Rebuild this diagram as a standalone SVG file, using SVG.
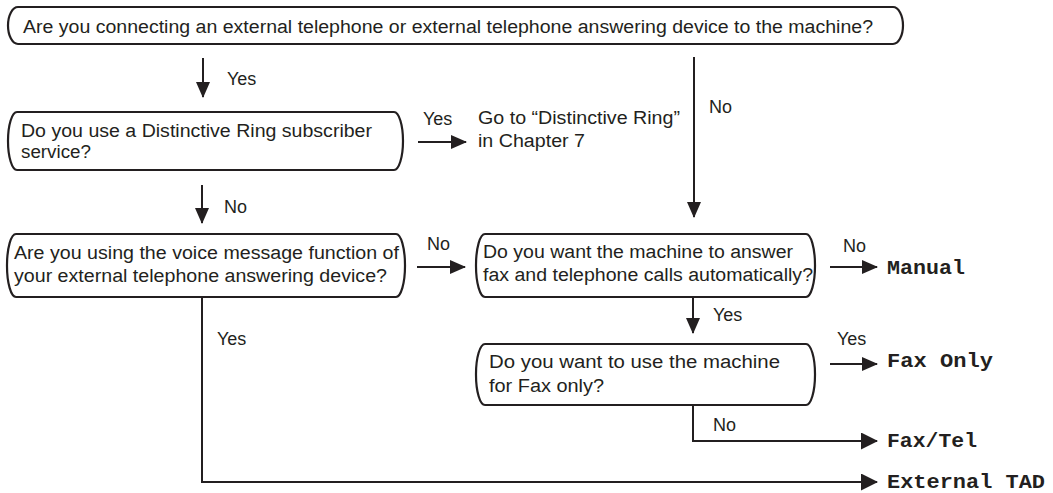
<svg xmlns="http://www.w3.org/2000/svg" width="1053" height="493" viewBox="0 0 1053 493">
<defs>
<style>
.box{fill:#fff;stroke:#231f20;stroke-width:2.2}
.t{font-family:"Liberation Sans",Arial,sans-serif;font-size:18px;fill:#231f20}
.m{font-family:"Liberation Mono","Courier New",monospace;font-size:20.5px;font-weight:bold;fill:#231f20}
.c{fill:none;stroke:#231f20;stroke-width:2}
</style>
<marker id="ah" viewBox="0 0 16 14" refX="15" refY="7" markerWidth="16" markerHeight="14" markerUnits="userSpaceOnUse" orient="auto">
<path d="M0,0 L16,7 L0,14 z" fill="#231f20"/>
</marker>
<marker id="ahb" viewBox="0 0 17 17" refX="16" refY="8.5" markerWidth="17" markerHeight="17" markerUnits="userSpaceOnUse" orient="auto">
<path d="M0,0 L17,8.5 L0,17 z" fill="#231f20"/>
</marker>
</defs>
<rect width="1053" height="493" fill="#fff"/>

<g id="connectors">
<line class="c" x1="203" y1="58" x2="203" y2="97" marker-end="url(#ah)"/>
<line class="c" x1="418" y1="142" x2="466" y2="142" marker-end="url(#ah)"/>
<line class="c" x1="694" y1="57" x2="694" y2="217" marker-end="url(#ah)"/>
<line class="c" x1="202" y1="185" x2="202" y2="223" marker-end="url(#ah)"/>
<line class="c" x1="417" y1="267" x2="465" y2="267" marker-end="url(#ah)"/>
<line class="c" x1="830" y1="267" x2="877" y2="267" marker-end="url(#ah)"/>
<line class="c" x1="693" y1="297" x2="693" y2="333" marker-end="url(#ah)"/>
<line class="c" x1="830" y1="364" x2="877" y2="364" marker-end="url(#ah)"/>
<polyline class="c" points="693,405 693,441 877,441" marker-end="url(#ahb)"/>
<polyline class="c" points="202,297 202,482 877,482" marker-end="url(#ahb)"/>
<text class="t" x="227" y="85">Yes</text>
<text class="t" x="423" y="125">Yes</text>
<text class="t" x="709" y="113">No</text>
<text class="t" x="224" y="213">No</text>
<text class="t" x="427" y="250">No</text>
<text class="t" x="217" y="345">Yes</text>
<text class="t" x="843" y="252">No</text>
<text class="t" x="713" y="321">Yes</text>
<text class="t" x="837" y="345">Yes</text>
<text class="t" x="713" y="431">No</text>
</g>

<g id="q1">
<rect class="box" x="8" y="7" width="895" height="37" rx="10" ry="18.5"/>
<text class="t" x="23" y="33" textLength="850" lengthAdjust="spacingAndGlyphs">Are you connecting an external telephone or external telephone answering device to the machine?</text>
</g>

<g id="q2">
<rect class="box" x="8" y="112" width="395" height="58" rx="9" ry="29"/>
<text class="t" x="21" y="137" textLength="351" lengthAdjust="spacingAndGlyphs">Do you use a Distinctive Ring subscriber</text>
<text class="t" x="21" y="158" textLength="70" lengthAdjust="spacingAndGlyphs">service?</text>
</g>

<g id="goto">
<text class="t" x="478" y="124" textLength="202" lengthAdjust="spacingAndGlyphs">Go to “Distinctive Ring”</text>
<text class="t" x="478" y="147" textLength="107" lengthAdjust="spacingAndGlyphs">in Chapter 7</text>
</g>

<g id="q3">
<rect class="box" x="7" y="234" width="398" height="63" rx="9" ry="31"/>
<text class="t" x="14" y="259" textLength="385" lengthAdjust="spacingAndGlyphs">Are you using the voice message function of</text>
<text class="t" x="14" y="282" textLength="373" lengthAdjust="spacingAndGlyphs">your external telephone answering device?</text>
</g>

<g id="q4">
<rect class="box" x="476" y="234" width="339" height="63" rx="9" ry="31"/>
<text class="t" x="483" y="258" textLength="310" lengthAdjust="spacingAndGlyphs">Do you want the machine to answer</text>
<text class="t" x="483" y="281" textLength="330" lengthAdjust="spacingAndGlyphs">fax and telephone calls automatically?</text>
</g>

<g id="q5">
<rect class="box" x="476" y="344" width="339" height="61" rx="9" ry="30"/>
<text class="t" x="489" y="368" textLength="291" lengthAdjust="spacingAndGlyphs">Do you want to use the machine</text>
<text class="t" x="489" y="392" textLength="115" lengthAdjust="spacingAndGlyphs">for Fax only?</text>
</g>

<g id="r-manual"><text class="m" x="887" y="274" textLength="78" lengthAdjust="spacingAndGlyphs">Manual</text></g>
<g id="r-faxonly"><text class="m" x="887" y="367" textLength="106" lengthAdjust="spacingAndGlyphs">Fax Only</text></g>
<g id="r-faxtel"><text class="m" x="887" y="447" textLength="90" lengthAdjust="spacingAndGlyphs">Fax/Tel</text></g>
<g id="r-tad"><text class="m" x="887" y="488" textLength="158" lengthAdjust="spacingAndGlyphs">External TAD</text></g>
</svg>
